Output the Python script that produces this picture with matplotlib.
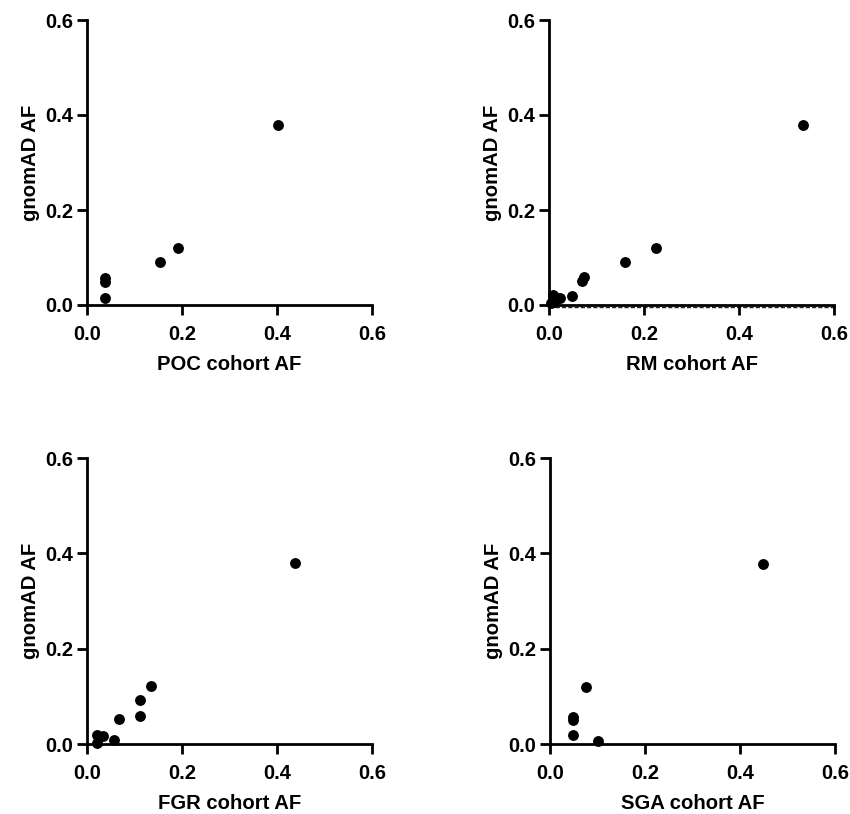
import matplotlib
matplotlib.use("Agg")
import matplotlib.pyplot as plt
import matplotlib.transforms as mtransforms

plt.rcParams['font.family'] = ['Liberation Sans', 'DejaVu Sans']
plt.rcParams['font.weight'] = 'bold'

# Data (cohort AF, gnomAD AF)
poc_x = [0.402, 0.192, 0.154, 0.037, 0.037, 0.037]
poc_y = [0.379, 0.120, 0.090, 0.057, 0.049, 0.015]

rm_x = [0.534, 0.225, 0.159, 0.074, 0.069, 0.049, 0.016, 0.009, 0.011, 0.023, 0.005]
rm_y = [0.379, 0.120, 0.091, 0.058, 0.051, 0.019, 0.014, 0.021, 0.007, 0.014, 0.004]

fgr_x = [0.438, 0.135, 0.112, 0.112, 0.068, 0.057, 0.022, 0.034, 0.022]
fgr_y = [0.379, 0.122, 0.092, 0.059, 0.052, 0.008, 0.018, 0.016, 0.002]

sga_x = [0.449, 0.075, 0.049, 0.049, 0.049, 0.100]
sga_y = [0.378, 0.120, 0.057, 0.050, 0.018, 0.007]

panels = [
    (poc_x, poc_y, "POC cohort AF"),
    (rm_x, rm_y, "RM cohort AF"),
    (fgr_x, fgr_y, "FGR cohort AF"),
    (sga_x, sga_y, "SGA cohort AF"),
]
ticks = [0.0, 0.2, 0.4, 0.6]
tick_labels = ["0.0", "0.2", "0.4", "0.6"]

W, H = 850, 814
fig = plt.figure(figsize=(W / 100, H / 100), dpi=100)

# pixel boxes: (left, top, right, bottom)
boxes = [
    (87, 20, 372, 305),
    (549, 20, 834, 305),
    (87, 458, 372, 744),
    (550, 458, 835, 744),
]

for i, ((xs, ys, xlabel), (l, t, r, b)) in enumerate(zip(panels, boxes)):
    ax = fig.add_axes([l / W, 1 - b / H, (r - l) / W, (b - t) / H])
    ax.plot(xs, ys, 'o', color='black', markersize=6.8, clip_on=False, zorder=3)
    ax.set_xlim(0, 0.6)
    ax.set_ylim(0, 0.6)
    ax.set_xticks(ticks)
    ax.set_xticklabels(tick_labels)
    ax.set_yticks(ticks)
    ax.set_yticklabels(tick_labels)
    for s in ['top', 'right']:
        ax.spines[s].set_visible(False)
    for s in ['left', 'bottom']:
        ax.spines[s].set_linewidth(2.0)
    ax.tick_params(axis='x', which='major', length=7, width=2.0,
                   labelsize=14.5, pad=7.3)
    ax.tick_params(axis='y', which='major', length=7, width=2.0,
                   labelsize=14.5, pad=3)
    for lab in ax.get_xticklabels() + ax.get_yticklabels():
        lab.set_fontweight('bold')
    ax.set_xlabel(xlabel, fontsize=14.6, fontweight='bold', labelpad=8.3)
    ax.set_ylabel("gnomAD AF", fontsize=14.6, fontweight='bold', labelpad=3.5)
    ax.patch.set_visible(False)
    if i == 1:
        off = mtransforms.offset_copy(ax.transAxes, fig=fig,
                                      x=0, y=-1.5, units='points')
        ax.plot([0, 1], [0, 0], color='#222222', lw=1.0, ls=(0, (3, 1.5)),
                transform=off, clip_on=False, zorder=1)

fig.savefig("out.png", dpi=100)
